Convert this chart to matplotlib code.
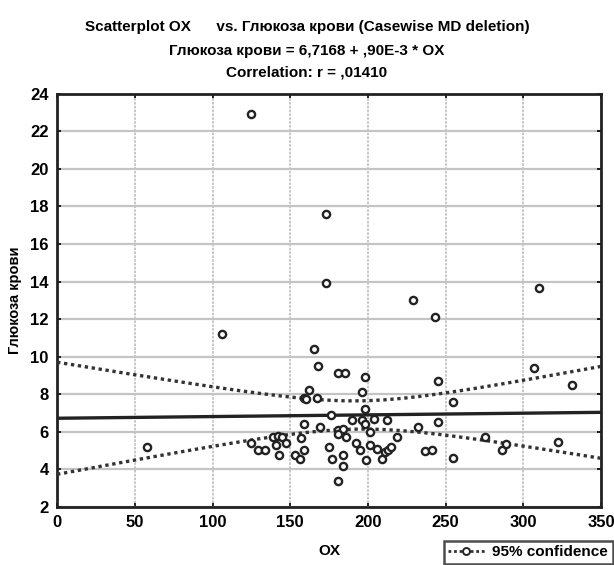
import numpy as np
import matplotlib
matplotlib.use("Agg")
from matplotlib import pyplot as plt
from matplotlib.lines import Line2D

# OX vs blood glucose, one pair per case
ox = [58, 106, 125, 125, 129, 134, 139, 142, 145, 141, 143, 153, 156, 159, 157,
      159, 159, 162, 160, 167, 165, 168, 173, 173, 169, 176, 175, 177, 181, 185,
      181, 184, 181, 186, 184, 184, 181, 190, 192, 195, 196, 196, 198, 198, 199,
      201, 201, 204, 206, 209, 211, 213, 215, 212, 219, 229, 232, 237, 241, 243,
      245, 245, 255, 255, 275, 286, 289, 307, 310, 322, 331, 198, 147]
glucose = [5.2, 11.2, 22.9, 5.4, 5.05, 5.05, 5.7, 5.75, 5.7, 5.3, 4.75, 4.75, 4.55, 5.0, 5.65,
           6.4, 7.8, 8.2, 7.75, 7.8, 10.4, 9.5, 17.6, 13.9, 6.25, 6.9, 5.2, 4.55, 9.15, 9.15,
           6.1, 6.15, 5.9, 5.7, 4.75, 4.15, 3.35, 6.6, 5.4, 5.0, 6.6, 8.1, 8.9, 7.2, 4.5,
           6.0, 5.3, 6.7, 5.1, 4.55, 4.9, 5.0, 5.2, 6.6, 5.7, 13.0, 6.25, 4.95, 5.05, 12.1,
           8.7, 6.5, 7.6, 4.6, 5.7, 5.0, 5.35, 9.4, 13.65, 5.45, 8.5, 6.4, 5.4]

# fitted line as printed in the header
intercept = 6.7168
slope = 0.90e-3
r_value = 0.01410
t_crit = 1.994

xticks = [0, 50, 100, 150, 200, 250, 300, 350]
yticks = [2, 4, 6, 8, 10, 12, 14, 16, 18, 20, 22, 24]

plt.rcParams['font.family'] = ['Liberation Sans Narrow', 'Liberation Sans', 'DejaVu Sans']
plt.rcParams['font.weight'] = 'bold'

x = np.array(ox, dtype=float)
y = np.array(glucose, dtype=float)
n = len(x)
resid = y - (intercept + slope * x)
s = np.sqrt(np.sum(resid ** 2) / (n - 2))
sxx = np.sum((x - x.mean()) ** 2)

xs = np.linspace(0, 350, 200)
fit = intercept + slope * xs
half = t_crit * s * np.sqrt(1.0 / n + (xs - x.mean()) ** 2 / sxx)

fig = plt.figure(figsize=(6.14, 5.65), dpi=100)
ax = fig.add_axes([0.093, 0.103, 0.886, 0.731])

ax.set_xlim(0, 350)
ax.set_ylim(2, 24)
ax.set_xticks(xticks)
ax.set_yticks(yticks)
ax.yaxis.grid(True, color='#c4c4c4', lw=1.6)
ax.xaxis.grid(True, color='#bdbdbd', lw=1.2, ls=(0, (1.5, 0.8)))
ax.set_axisbelow(True)

ax.plot(xs, fit, color='#222222', lw=2.4, zorder=3)
ax.plot(xs, fit + half, color='#333333', lw=2.4, ls=(0, (1, 1.1)), zorder=3)
ax.plot(xs, fit - half, color='#333333', lw=2.4, ls=(0, (1, 1.1)), zorder=3)
ax.plot(x, y, ls='none', marker='o', ms=5.2, mfc='white', mec='#222222', mew=1.7, zorder=4)

for sp in ax.spines.values():
    sp.set_linewidth(2)
    sp.set_color('#222222')
ax.tick_params(direction='in', length=3, width=1.2, top=True, right=True,
               labelsize=12, pad=6)
for lab in ax.get_xticklabels() + ax.get_yticklabels():
    lab.set_fontweight('bold')

ax.set_xlabel('OX', fontsize=11, fontweight='bold', labelpad=10)
ax.set_ylabel('Глюкоза крови', fontsize=10.5, fontweight='bold', labelpad=6)

fig.text(0.5, 0.952, 'Scatterplot OX      vs. Глюкоза крови (Casewise MD deletion)',
         ha='center', va='center', fontsize=11, fontweight='bold')
fig.text(0.5, 0.910, 'Глюкоза крови = 6,7168 + ,90E-3 * OX',
         ha='center', va='center', fontsize=11, fontweight='bold')
fig.text(0.5, 0.872, 'Correlation: r = ,{:05d}'.format(int(round(r_value * 1e5))),
         ha='center', va='center', fontsize=11, fontweight='bold')

handle = Line2D([], [], color='#333333', ls=(0, (1, 1)), lw=2, marker='o',
                ms=5, mfc='white', mec='#222222', mew=1.4)
leg = fig.legend([handle], ['95% confidence'], loc='lower right',
                 bbox_to_anchor=(0.998, 0.002), fontsize=11, frameon=True,
                 fancybox=False, handlelength=2.4, borderpad=0.3,
                 handletextpad=0.5, borderaxespad=0)
leg.get_frame().set_edgecolor('#222222')
leg.get_frame().set_linewidth(1.8)

fig.savefig('out.png', dpi=100)
